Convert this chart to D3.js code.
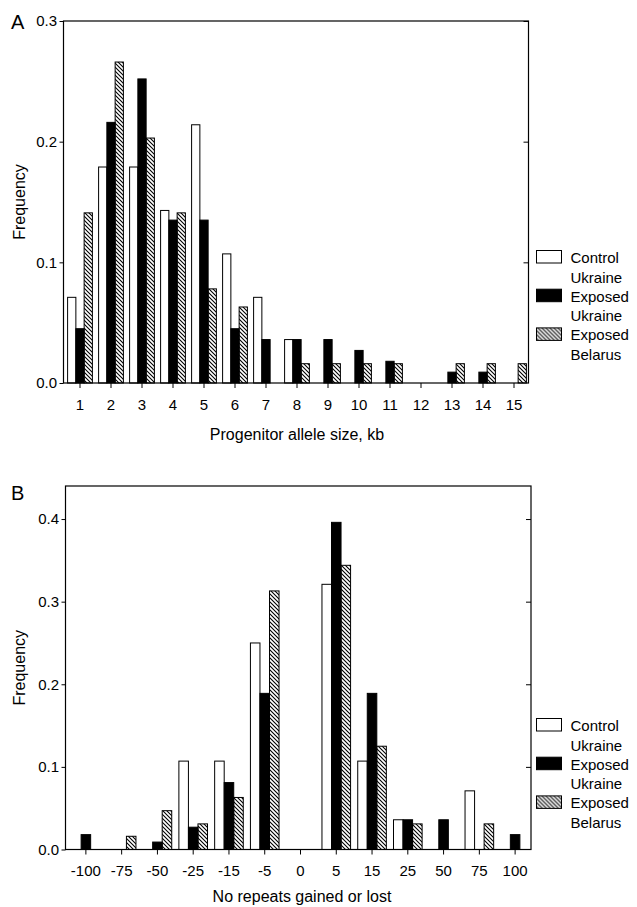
<!DOCTYPE html>
<html>
<head>
<meta charset="utf-8">
<script src="https://cdn.jsdelivr.net/npm/d3@7"></script>
<style>
  body { margin: 0; background: #fff; }
  svg text { font-family: "Liberation Sans", Arial, Helvetica, sans-serif; fill: #000; }
</style>
</head>
<body>
<div id="chart-area"></div>
<script>
// panel A data
var sizesA = ["1","2","3","4","5","6","7","8","9","10","11","12","13","14","15"];
var controlA  = [0.071, 0.179, 0.179, 0.143, 0.214, 0.107, 0.071, 0.036, 0, 0, 0, 0, 0, 0, 0];
var exposedUA = [0.045, 0.216, 0.252, 0.135, 0.135, 0.045, 0.036, 0.036, 0.036, 0.027, 0.018, 0, 0.009, 0.009, 0];
var exposedBA = [0.141, 0.266, 0.203, 0.141, 0.078, 0.063, 0, 0.016, 0.016, 0.016, 0.016, 0, 0.016, 0.016, 0.016];
var yTicksA = [0, 0.1, 0.2, 0.3];

// panel B data
var repeatsB = ["-100","-75","-50","-25","-15","-5","0","5","15","25","50","75","100"];
var controlB  = [0, 0, 0, 0.107, 0.107, 0.250, 0, 0.321, 0.107, 0.036, 0, 0.071, 0];
var exposedUB = [0.018, 0, 0.009, 0.027, 0.081, 0.189, 0, 0.396, 0.189, 0.036, 0.036, 0, 0.018];
var exposedBB = [0, 0.016, 0.047, 0.031, 0.063, 0.313, 0, 0.344, 0.125, 0.031, 0, 0.031, 0];
var yTicksB = [0, 0.1, 0.2, 0.3, 0.4];

var seriesNames = ["control", "exposedU", "exposedB"];
var legendLines = [["Control", "Ukraine"], ["Exposed", "Ukraine"], ["Exposed", "Belarus"]];

var svg = d3.select("#chart-area").append("svg")
    .attr("width", 637)
    .attr("height", 907);

// hatch pattern (\\\)
var defs = svg.append("defs");
defs.append("pattern")
    .attr("id", "hatch")
    .attr("patternUnits", "userSpaceOnUse")
    .attr("width", 4)
    .attr("height", 4)
  .append("path")
    .attr("d", "M-1,-1 L5,5 M-1,3 L1,5 M3,-1 L5,1")
    .attr("stroke", "#000")
    .attr("stroke-width", 1.1);

function fillFor(s) {
    if (s == "control") return "#fff";
    if (s == "exposedU") return "#000";
    return "url(#hatch)";
}

function panel(opt) {
    var g = svg.append("g");

    var x = d3.scaleBand()
        .domain(opt.cats)
        .range([opt.bandLeft, opt.bandRight])
        .paddingInner(0.2)
        .paddingOuter(0.1);

    var xs = d3.scaleBand()
        .domain(seriesNames)
        .range([0, x.bandwidth()]);

    var y = d3.scaleLinear()
        .domain([0, opt.ymax])
        .range([opt.bottom, opt.top]);

    var rows = opt.cats.map(function (c, i) {
        return { cat: c, control: opt.control[i], exposedU: opt.exposedU[i], exposedB: opt.exposedB[i] };
    });

    // bars
    seriesNames.forEach(function (s) {
        g.selectAll("rect." + s)
            .data(rows.filter(function (d) { return d[s] > 0; }))
            .enter()
            .append("rect")
            .attr("class", s)
            .attr("x", function (d) { return x(d.cat) + xs(s); })
            .attr("y", function (d) { return y(d[s]); })
            .attr("width", xs.bandwidth())
            .attr("height", function (d) { return opt.bottom - y(d[s]); })
            .attr("fill", fillFor(s))
            .attr("stroke", "#000")
            .attr("stroke-width", 1);
    });

    // frame
    g.append("rect")
        .attr("x", opt.left)
        .attr("y", opt.top)
        .attr("width", opt.right - opt.left)
        .attr("height", opt.bottom - opt.top)
        .attr("fill", "none")
        .attr("stroke", "#000")
        .attr("stroke-width", 1.2);

    // left axis
    var yAxis = g.append("g")
        .attr("transform", "translate(" + opt.left + ",0)")
        .call(d3.axisLeft(y).tickValues(opt.yTicks).tickFormat(d3.format(".1f"))
            .tickSize(4).tickSizeOuter(0).tickPadding(2.5));
    yAxis.select(".domain").remove();
    yAxis.attr("font-family", null).attr("font-size", 15);

    // right axis, inward ticks
    var rAxis = g.append("g")
        .attr("transform", "translate(" + opt.right + ",0)")
        .call(d3.axisLeft(y).tickValues(opt.yTicks.slice(1)).tickFormat("")
            .tickSize(5).tickSizeOuter(0));
    rAxis.select(".domain").remove();

    // bottom axis
    var xAxis = g.append("g")
        .attr("transform", "translate(0," + opt.bottom + ")")
        .call(d3.axisBottom(x).tickSize(5).tickSizeOuter(0).tickPadding(11));
    xAxis.select(".domain").remove();
    xAxis.attr("font-family", null).attr("font-size", 15);

    // panel letter
    g.append("text")
        .attr("x", 11)
        .attr("y", opt.letterY)
        .attr("font-size", 20)
        .text(opt.letter);

    // y title
    g.append("text")
        .attr("transform", "translate(25," + ((opt.top + opt.bottom) / 2) + ") rotate(-90)")
        .attr("text-anchor", "middle")
        .attr("font-size", 16)
        .text("Frequency");

    // x title
    g.append("text")
        .attr("x", opt.xTitleX)
        .attr("y", opt.xTitleY)
        .attr("text-anchor", "middle")
        .attr("font-size", 16)
        .text(opt.xTitle);

    // legend
    var leg = g.append("g").attr("transform", "translate(536.5," + opt.legendTop + ")");
    seriesNames.forEach(function (s, i) {
        leg.append("rect")
            .attr("x", 0)
            .attr("y", i * 38.7)
            .attr("width", 25)
            .attr("height", 12.5)
            .attr("fill", fillFor(s))
            .attr("stroke", "#000")
            .attr("stroke-width", 1);
        legendLines[i].forEach(function (t, j) {
            leg.append("text")
                .attr("x", 34)
                .attr("y", i * 38.7 + 12.5 + j * 19.5)
                .attr("font-size", 15)
                .text(t);
        });
    });
}

panel({
    cats: sizesA, control: controlA, exposedU: exposedUA, exposedB: exposedBA,
    yTicks: yTicksA, ymax: 0.3,
    left: 63.5, right: 528.5, top: 21, bottom: 383,
    bandLeft: 64.5, bandRight: 529.5,
    letter: "A", letterY: 28.5,
    xTitle: "Progenitor allele size, kb", xTitleX: 297, xTitleY: 440,
    legendTop: 250.5
});

panel({
    cats: repeatsB, control: controlB, exposedU: exposedUB, exposedB: exposedBB,
    yTicks: yTicksB, ymax: 0.44,
    left: 65.5, right: 531, top: 486, bottom: 849.5,
    bandLeft: 68, bandRight: 533,
    letter: "B", letterY: 499.5,
    xTitle: "No repeats gained or lost", xTitleX: 302, xTitleY: 902,
    legendTop: 718.5
});
</script>
</body>
</html>
